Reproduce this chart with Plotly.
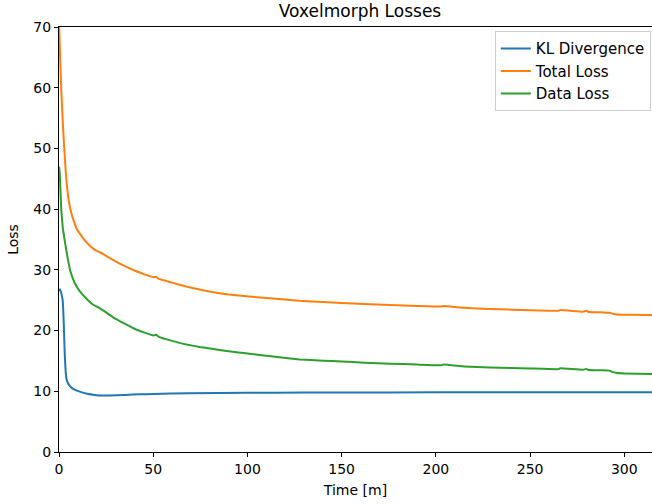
import plotly.graph_objects as go

# Time [m]
kl_time = [0, 0.5, 1, 1.5, 2, 2.5, 3, 3.5, 4, 5, 6, 8, 11, 15, 19, 22, 27, 35, 43, 50, 69, 100, 130, 150, 200, 250, 290, 315]
kl_vals = [26.5, 26.8, 26.4, 25.8, 24.8, 21.5, 16.5, 13.4, 12.0, 11.2, 10.8, 10.3, 9.94, 9.6, 9.4, 9.3, 9.3, 9.4, 9.5, 9.55, 9.68, 9.74, 9.78, 9.8, 9.83, 9.85, 9.85, 9.85]

total_time = [0, 0.5, 1, 1.5, 2, 2.5, 3, 3.5, 4, 4.8, 5.5, 6.6, 8, 9.5, 11, 13, 15, 17, 19, 21.7, 25, 30, 35, 40, 45, 50, 51.7, 53, 60, 67, 74.7, 82, 90, 98, 106.6, 120, 127.8, 140, 150, 162, 175.6, 190, 203, 204, 215, 228.7, 240, 250, 265, 266, 278, 280, 281, 288, 292, 294, 296, 300, 315]
total_vals = [71, 66, 61.5, 57.5, 54.5, 51.5, 49, 46.5, 44.5, 42.2, 40.8, 39.3, 37.9, 36.7, 36.0, 35.1, 34.4, 33.8, 33.3, 32.9, 32.3, 31.4, 30.6, 29.9, 29.3, 28.8, 28.85, 28.5, 27.9, 27.3, 26.75, 26.3, 25.95, 25.7, 25.45, 25.1, 24.9, 24.7, 24.55, 24.38, 24.2, 24.05, 23.95, 24.05, 23.75, 23.55, 23.45, 23.35, 23.25, 23.38, 23.12, 23.25, 23.05, 23.0, 22.95, 22.78, 22.65, 22.6, 22.55]

data_time = [0, 0.4, 1.2, 2, 3, 4, 4.8, 6, 8.4, 11, 15.4, 18, 21.7, 25, 29.6, 35, 40, 45, 50, 51.7, 53, 60, 67, 74.7, 82, 90, 98, 106.6, 122.7, 127.8, 140, 150, 162, 175.6, 190, 203, 204, 215, 228.7, 240, 250, 265, 266, 278, 280, 281, 288, 292, 294, 296, 300, 315]
data_vals = [47, 45.9, 39.9, 37.0, 34.9, 33.0, 31.6, 29.8, 27.8, 26.5, 25.0, 24.3, 23.65, 23.0, 22.0, 21.1, 20.3, 19.7, 19.2, 19.3, 18.95, 18.3, 17.75, 17.3, 16.95, 16.6, 16.3, 15.98, 15.4, 15.25, 15.05, 14.9, 14.72, 14.55, 14.4, 14.3, 14.4, 14.1, 13.92, 13.82, 13.75, 13.65, 13.78, 13.55, 13.68, 13.5, 13.45, 13.4, 13.15, 13.0, 12.95, 12.85]

series = [
    ("KL Divergence", kl_time, kl_vals, "#1f77b4"),
    ("Total Loss", total_time, total_vals, "#ff7f0e"),
    ("Data Loss", data_time, data_vals, "#2ca02c"),
]

x_ticks = [0, 50, 100, 150, 200, 250, 300]
y_ticks = [0, 10, 20, 30, 40, 50, 60, 70]

FONT = "DejaVu Sans"
FS = 14

fig = go.Figure()
for name, t, v, c in series:
    fig.add_trace(go.Scatter(x=t, y=v, mode="lines", name=name,
                             line=dict(color=c, width=2, shape="spline", smoothing=0.3)))

fig.update_layout(
    width=652, height=504,
    margin=dict(l=59, r=0, t=27, b=52, autoexpand=False),
    paper_bgcolor="white", plot_bgcolor="white",
    font=dict(family=FONT, size=FS, color="#000000"),
    title=dict(text="Voxelmorph Losses", x=360 / 652, xref="container", xanchor="center",
               y=1 - 11 / 504, yref="container", yanchor="middle",
               font=dict(family=FONT, size=17, color="#000000")),
    showlegend=True,
    legend=dict(x=0.998, y=0.99, xanchor="right", yanchor="top",
                bgcolor="white", bordercolor="#cccccc", borderwidth=1,
                font=dict(family=FONT, size=15, color="#000000"),
                itemwidth=30, tracegroupgap=0),
)

fig.update_xaxes(
    range=[0, 314.7], tickvals=x_ticks, ticktext=[str(v) for v in x_ticks],
    showgrid=False, zeroline=False, showline=True, linecolor="black", linewidth=1,
    mirror=True, ticks="outside", ticklen=4, tickcolor="black", tickwidth=1,
    tickfont=dict(family=FONT, size=FS, color="#000000"), automargin=False,
    title=dict(text="Time [m]", font=dict(family=FONT, size=FS, color="#000000"), standoff=9),
)
fig.update_yaxes(
    range=[0, 70], tickvals=y_ticks, ticktext=[str(v) for v in y_ticks],
    showgrid=False, zeroline=False, showline=True, linecolor="black", linewidth=1,
    ticks="outside", ticklen=4, tickcolor="black", tickwidth=1,
    tickfont=dict(family=FONT, size=FS, color="#000000"), automargin=False,
    title=dict(text="Loss", font=dict(family=FONT, size=FS, color="#000000"), standoff=11),
)

fig.write_html("out.html", config={"displayModeBar": False},
               post_script="document.body.style.margin='0';")
